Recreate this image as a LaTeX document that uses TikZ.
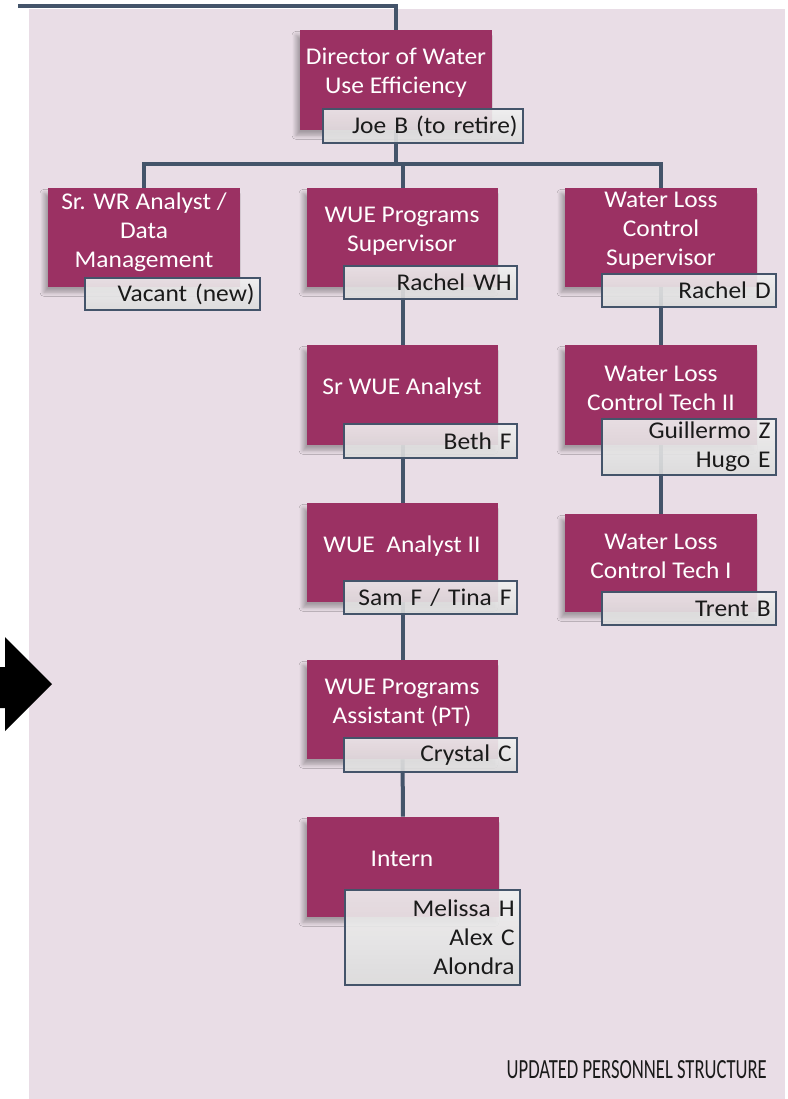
\documentclass[tikz,border=0pt]{standalone}
\usepackage{fontspec}
\setmainfont{Carlito}[FakeStretch=1.06]
\usepackage{graphicx}
\usetikzlibrary{fit,shadows.blur}
\definecolor{boxmag}{HTML}{9B3163}
\definecolor{linec}{HTML}{44546A}
\definecolor{bgpink}{HTML}{E9DDE6}
\definecolor{nametop}{HTML}{F0F0F0}
\definecolor{namebot}{HTML}{DCDCDC}
\definecolor{namec}{HTML}{1A1A1A}
\pgfdeclarelayer{bglayer}
\pgfdeclarelayer{connlayer}
\pgfsetlayers{bglayer,connlayer,main}
\tikzset{
  magbox/.style={fill=boxmag, draw=none, inner sep=0pt,
    blur shadow={shadow xshift=-3pt, shadow yshift=-4pt, shadow blur radius=3pt, shadow blur steps=8, shadow opacity=30}},
  namebox/.style 2 args={draw=linec, line width=1.5pt, top color=nametop, bottom color=namebot,
    fill opacity=0.9, text opacity=1, anchor=north east, align=right,
    inner xsep=4pt, inner ysep=0pt, text width=#1, minimum height=#2,
    font=\fontsize{18}{21.75}\selectfont, text=namec},
  title/.style={text=white, align=center, inner sep=0pt, font=\fontsize{18}{21.75}\selectfont},
  conn/.style={draw=linec, line width=3pt},
}
\begin{document}
\begin{tikzpicture}[x=0.75pt, y=-0.75pt]
\useasboundingbox (0,0) rectangle (788,1099);

% magenta title boxes
\node[magbox, fit={(300,30)(492,130)}]   (dir)    {};
\node[magbox, fit={(48,188)(240,287)}]   (wr)     {};
\node[magbox, fit={(307,188)(498,287)}]  (sup)    {};
\node[magbox, fit={(565,188)(757,287)}]  (loss)   {};
\node[magbox, fit={(307,345)(498,445)}]  (sra)    {};
\node[magbox, fit={(565,345)(757,445)}]  (tech2)  {};
\node[magbox, fit={(307,503)(498,602)}]  (an2)    {};
\node[magbox, fit={(565,514)(757,612)}]  (tech1)  {};
\node[magbox, fit={(307,660)(498,759)}]  (asst)   {};
\node[magbox, fit={(307,817)(499,917)}]  (intern) {};

% titles
\node[title] (dirT)    at (396,73)  {Director of Water\\Use Efficiency};
\node[title] (wrT)     at (144,232) {Sr. WR Analyst /\\Data\\Management};
\node[title] (supT)    at (402,231) {WUE Programs\\Supervisor};
\node[title] (lossT)   at (661,231) {Water Loss\\Control\\Supervisor};
\node[title] (sraT)    at (402,388) {Sr WUE Analyst};
\node[title] (tech2T)  at (661,388) {Water Loss\\Control Tech II};
\node[title] (an2T)    at (402,546) {WUE~ Analyst II};
\node[title] (tech1T)  at (661,556) {Water Loss\\Control Tech I};
\node[title] (asstT)   at (402,703) {WUE Programs\\Assistant (PT)};
\node[title] (internT) at (402,859) {Intern};

% name boxes
\node[namebox={142pt}{25.5pt}]    (dirN)    at (524,108) {Joe B (to retire)};
\node[namebox={123.25pt}{24pt}]   (wrN)     at (261,277) {Vacant (new)};
\node[namebox={121.75pt}{24.75pt}] (supN)   at (518,265) {Rachel WH};
\node[namebox={122.5pt}{24.75pt}] (lossN)   at (777,273) {Rachel D};
\node[namebox={121.75pt}{25.5pt}] (sraN)    at (518,423) {Beth F};
\node[namebox={122.5pt}{42pt}]    (tech2N)  at (777,418) {Guillermo Z\\Hugo E};
\node[namebox={121.75pt}{24.75pt}] (an2N)   at (518,580) {Sam F / Tina F};
\node[namebox={122.5pt}{24.75pt}] (tech1N)  at (777,591) {Trent B};
\node[namebox={121.75pt}{25.5pt}] (asstN)   at (518,737) {Crystal C};
\node[namebox={123.25pt}{71.25pt}] (intN)   at (521,889) {Melissa H\\Alex C\\Alondra};

% caption
\node[anchor=south east, inner sep=0pt, text=namec] (cap) at (767,1079)
  {\resizebox{195pt}{13.5pt}{UPDATED PERSONNEL STRUCTURE}};

\coordinate (topstart) at (18,6);
\coordinate (bus) at (0,164);

\begin{pgfonlayer}{bglayer}
  \fill[bgpink] (29,9) rectangle (785,1099);
  \fill[black] (0,667) -- (5,667) -- (5,637) -- (52,684) -- (5,731) -- (5,708) -- (0,708) -- cycle;
\end{pgfonlayer}

\begin{pgfonlayer}{connlayer}
  \draw[conn] (topstart) -| (dir.center);
  \draw[conn] (dir.center) -- (dir.center |- bus);
  \draw[conn] (wr.north) -- (wr.north |- bus) -- (loss.north |- bus) -- (loss.north);
  \draw[conn] (sup.north) -- (sup.north |- bus);
  \draw[conn] (sup) -- (sra);
  \draw[conn] (sra) -- (an2);
  \draw[conn] (an2) -- (asst);
  \draw[conn] (asst) -- (intern);
  \draw[conn] (loss) -- (tech2);
  \draw[conn] (tech2) -- (tech1);
\end{pgfonlayer}
\end{tikzpicture}
\end{document}
